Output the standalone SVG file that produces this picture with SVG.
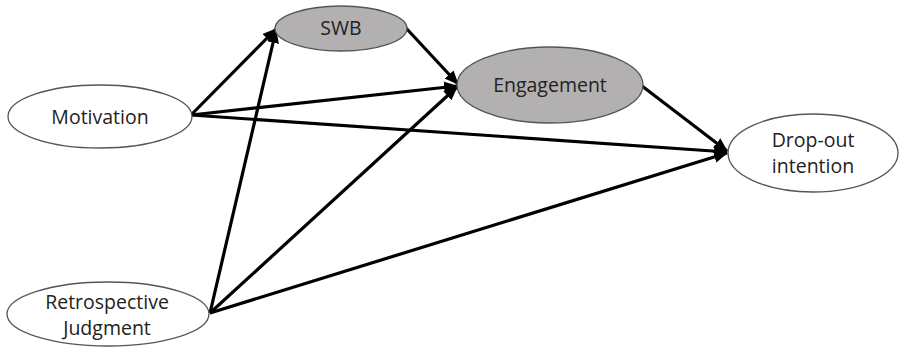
<svg xmlns="http://www.w3.org/2000/svg" width="900" height="347" viewBox="0 0 900 347">
<defs>
<marker id="ah" markerUnits="userSpaceOnUse" markerWidth="14" markerHeight="12" refX="13" refY="6" orient="auto">
<path d="M0,0 L14,6 L0,12 Z" fill="#000"/>
</marker>
<style>
.n{fill:#fff;stroke:#555;stroke-width:1.3}
.g{fill:#b2b0b0;stroke:#555;stroke-width:1.3}
.t{font-family:"Open Sans","Liberation Sans",sans-serif;font-size:19.5px;fill:#222;text-anchor:middle}
.c{stroke:#000;stroke-width:3.2;fill:none;marker-end:url(#ah)}
</style>
</defs>
<rect width="900" height="347" fill="#fff"/>
<g id="connectors">
<line class="c" x1="191" y1="115" x2="276" y2="29"/>
<line class="c" x1="191" y1="115" x2="457" y2="86"/>
<line class="c" x1="191" y1="115" x2="727" y2="152"/>
<line class="c" x1="210" y1="313" x2="276" y2="30"/>
<line class="c" x1="210" y1="313" x2="457" y2="87"/>
<line class="c" x1="210" y1="313" x2="727" y2="153"/>
<line class="c" x1="406" y1="28" x2="458" y2="84"/>
<line class="c" x1="642" y1="86" x2="727" y2="151"/>
</g>
<g id="motivation">
<ellipse class="n" cx="100" cy="116.5" rx="92" ry="31.5"/>
<text class="t" x="100" y="123.5">Motivation</text>
</g>
<g id="swb">
<ellipse class="g" cx="341" cy="28.5" rx="66" ry="22.5"/>
<text class="t" x="341" y="35">SWB</text>
</g>
<g id="engagement">
<ellipse class="g" cx="550" cy="85" rx="93" ry="38"/>
<text class="t" x="550" y="92">Engagement</text>
</g>
<g id="dropout">
<ellipse class="n" cx="813" cy="153" rx="85" ry="39"/>
<text class="t" x="813" y="147">Drop-out</text>
<text class="t" x="813" y="173">intention</text>
</g>
<g id="retrospective">
<ellipse class="n" cx="108" cy="314" rx="101" ry="32"/>
<text class="t" x="107" y="309">Retrospective</text>
<text class="t" x="107" y="335">Judgment</text>
</g>
</svg>
